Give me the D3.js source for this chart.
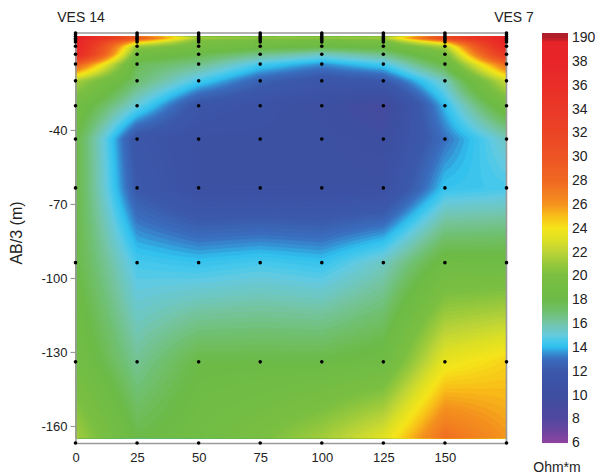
<!DOCTYPE html>
<html><head><meta charset="utf-8">
<script src="https://cdn.jsdelivr.net/npm/d3@7"></script>
<style>body{margin:0;background:#fff;} svg{display:block;font-family:"Liberation Sans",Arial,sans-serif;}</style>
</head><body><svg id="c" width="595" height="476"></svg>
<script>
// ---- data ----
const xPositions = [0, 25, 50, 75, 100, 125, 150, 175];
const depths = [0.7, 1.4, 2.1, 2.8, 3.5, 4.3, 6.1, 9.3, 13.3, 20.1, 30.2, 43.7, 63.5, 93.8, 134, 166.9];
const resistivity = [
  [40, 34, 24, 23, 23, 23.5, 36, 38],
  [40, 33, 23.5, 22.5, 22.5, 23, 35, 38],
  [40, 31, 22.5, 22, 22, 22.5, 34, 38],
  [39, 29, 21, 20.5, 20.5, 21, 31, 38],
  [38, 27, 20.2, 19.8, 19.5, 20, 28, 38],
  [38, 24.5, 19.8, 19.3, 19, 19.5, 25, 38],
  [38, 21, 19.3, 18.5, 18, 18.5, 21.5, 37],
  [37, 19, 17.8, 16.5, 15.5, 16.5, 19.5, 34],
  [29, 17.5, 16.5, 14.5, 13.5, 14.5, 18, 28],
  [21.5, 17, 14.5, 12.5, 11.5, 12, 15.5, 22.5],
  [19, 15, 11.5, 10.8, 10.2, 9, 14, 19],
  [18, 11.5, 10.5, 10.5, 10.5, 10, 13, 15.5],
  [18, 12, 10.5, 10.5, 10.5, 10.5, 14.2, 14.5],
  [18, 14.5, 14.2, 14.5, 14.2, 15.5, 18.5, 18.5],
  [19, 16.3, 18, 18, 18, 18.5, 23.5, 24.5],
  [21.5, 18, 18.8, 20, 21.5, 23.5, 28, 26]
];
const xTicks = [0, 25, 50, 75, 100, 125, 150];
const yTicks = [-40, -70, -100, -130, -160];
const legendLabels = ["190", "38", "36", "34", "32", "30", "28", "26", "24", "22", "20", "18", "16", "14", "12", "10", "8", "6"];
const colorValues = [6, 7, 8, 10, 12, 13, 13.5, 14, 14.5, 15, 16, 17, 18, 20, 21, 22, 23, 24, 25, 26, 28, 30, 32, 34, 36, 38, 60, 190];
const colorHex = ["#8c44a0", "#6a46a0", "#5048a0", "#3d4ea0", "#3b58aa", "#3a6dbe", "#3590d4", "#2fbfee", "#45c8ec", "#66cade", "#74c4a6", "#70bf6e", "#6cbb46", "#7abf42", "#98c93c", "#bdd437", "#dde024", "#f5e41a", "#f8be18", "#f4911e", "#f06822", "#ed5424", "#eb4426", "#ea3827", "#e92e28", "#e82428", "#dc2228", "#ae1f2a"];

// ---- scales ----
const svg = d3.select("#c");
const xScale = d3.scaleLinear().domain([0, 175]).range([75.5, 506.5]);
const yScale = d3.scaleLinear().domain([-0.7, -166.9]).range([33, 443]);
const color = d3.scaleLinear().domain(colorValues).range(colorHex).clamp(true);

function bracket(arr, v) {
  let i = d3.bisectRight(arr, v) - 1;
  i = Math.max(0, Math.min(arr.length - 2, i));
  let t = (v - arr[i]) / (arr[i + 1] - arr[i]);
  t = Math.max(0, Math.min(1, t));
  return [i, t];
}
function valueAt(x, d) {
  const [i, tx] = bracket(xPositions, x);
  const [j, ty] = bracket(depths, d);
  const a = resistivity[j][i], b = resistivity[j][i + 1];
  const c = resistivity[j + 1][i], e = resistivity[j + 1][i + 1];
  return (a * (1 - tx) + b * tx) * (1 - ty) + (c * (1 - tx) + e * tx) * ty;
}

// ---- raster via contours ----
const xL = xScale(0), xR = xScale(175), yT = 37, yB = 438;
const nx = 216, ny = 200;
const sx = (xR - xL) / nx, sy = (yB - yT) / ny;
const grid = new Array(nx * ny);
for (let j = 0; j < ny; j++) {
  const d = -yScale.invert(yT + (j + 0.5) * sy);
  for (let i = 0; i < nx; i++) {
    grid[j * nx + i] = valueAt(xScale.invert(xL + (i + 0.5) * sx), d);
  }
}
const thresholds = d3.range(6, 40, 0.2).concat([45, 60, 100, 190]);
const contours = d3.contours().size([nx, ny]).thresholds(thresholds)(grid);
const proj = d3.geoTransform({point: function(x, y) { this.stream.point(xL + x * sx, yT + y * sy); }});
const path = d3.geoPath(proj);
const bandColor = k => color(k < thresholds.length - 1 ? (thresholds[k] + thresholds[k + 1]) / 2 : thresholds[k]);
svg.append("g").selectAll("path").data(contours).join("path")
  .attr("d", path)
  .attr("fill", (c, k) => bandColor(k))
  .attr("stroke", (c, k) => bandColor(k))
  .attr("stroke-width", 0.3);

// ---- frame ----
const frameColor = "#9a9a9a";
svg.append("line").attr("x1", xL).attr("x2", xR).attr("y1", yScale(-0.7)).attr("y2", yScale(-0.7))
  .attr("stroke", frameColor).attr("stroke-width", 1.6);
svg.append("line").attr("x1", xR).attr("x2", xR).attr("y1", yScale(-0.7)).attr("y2", yScale(-166.9))
  .attr("stroke", frameColor).attr("stroke-width", 1.6);

// ---- axes ----
const yAxis = d3.axisLeft(yScale).tickValues(yTicks).tickFormat(d => String(d))
  .tickSize(5).tickSizeOuter(0).tickPadding(3);
const gy = svg.append("g").attr("transform", `translate(${xL},0)`).call(yAxis);
gy.select(".domain").attr("stroke", frameColor).attr("stroke-width", 1.6);
gy.selectAll(".tick line").attr("stroke", frameColor).attr("stroke-width", 1.2);
gy.selectAll("text").attr("font-size", 13).attr("fill", "#222").attr("font-family", "Liberation Sans, Arial, sans-serif");

const xAxis = d3.axisBottom(xScale).tickValues(xTicks).tickFormat(d => String(d))
  .tickSize(0).tickSizeOuter(0).tickPadding(10);
const gx = svg.append("g").attr("transform", `translate(0,${yScale(-166.9)})`).call(xAxis);
gx.select(".domain").attr("stroke", frameColor).attr("stroke-width", 1.6);
gx.selectAll("text").attr("font-size", 13).attr("fill", "#222").attr("font-family", "Liberation Sans, Arial, sans-serif");

// ---- data points ----
const pts = [];
depths.forEach((d, j) => xPositions.forEach((x, i) => pts.push([x, d])));
svg.append("g").selectAll("circle").data(pts).join("circle")
  .attr("cx", p => xScale(p[0])).attr("cy", p => yScale(-p[1])).attr("r", 1.8).attr("fill", "#000");

// ---- titles ----
svg.append("text").attr("x", 81).attr("y", 22).attr("text-anchor", "middle").attr("font-size", 14).attr("fill", "#222").text("VES 14");
svg.append("text").attr("x", 514).attr("y", 22).attr("text-anchor", "middle").attr("font-size", 14).attr("fill", "#222").text("VES 7");
svg.append("text").attr("transform", "translate(21.5,233) rotate(-90)").attr("text-anchor", "middle")
  .attr("font-size", 16).attr("fill", "#222").text("AB/3 (m)");

// ---- color bar ----
const cbX = 542, cbW = 26, cbTop = 33, cbBot = 442.3, step = 23.82;
const cbRows = d3.range(cbTop, cbBot, 1);
function barValue(y) {
  const t = (cbBot - (y + 0.5)) / step;
  if (t <= 16) return 6 + 2 * t;
  if (t < 16.8) return 38 + (t - 16) * 2.5;
  return 40 + (t - 16.8) / 0.2 * 150;
}
svg.append("g").selectAll("rect").data(cbRows).join("rect")
  .attr("x", cbX).attr("y", y => y).attr("width", cbW).attr("height", 1.05)
  .attr("fill", y => color(barValue(y)));
const legendScale = d3.scalePoint().domain(legendLabels).range([37.3, cbBot]);
svg.append("g").selectAll("text").data(legendLabels).join("text")
  .attr("x", 572).attr("y", l => legendScale(l)).attr("dy", "0.35em")
  .attr("font-size", 14).attr("fill", "#222").text(l => l);
svg.append("text").attr("x", 557).attr("y", 472).attr("text-anchor", "middle").attr("font-size", 14).attr("fill", "#222").text("Ohm*m");
</script></body></html>
